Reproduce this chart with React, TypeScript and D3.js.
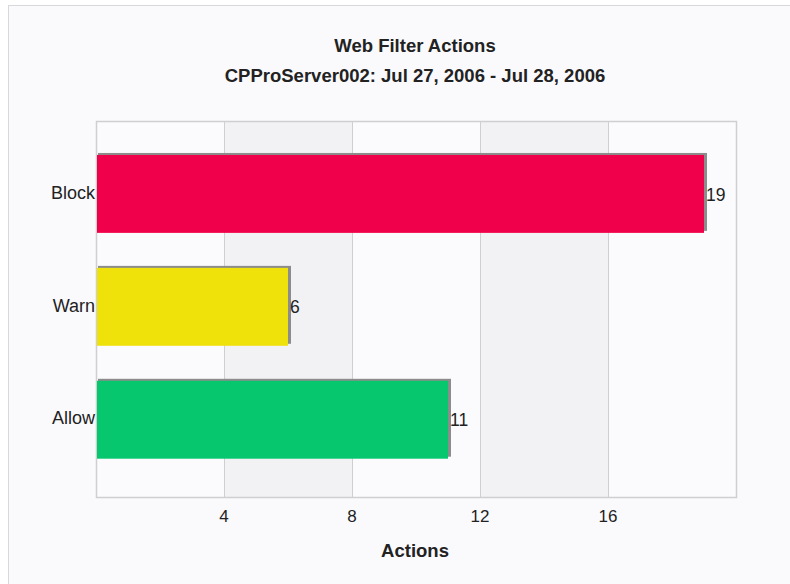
import React, { useEffect, useRef } from 'react';
import * as d3 from 'd3';

const categories = ['Block', 'Warn', 'Allow'];
const actionCounts = [19, 6, 11];
const barColors = ['#f0004a', '#efe10a', '#06c66e'];
const xTicks = [4, 8, 12, 16];
const xDomain = [0, 20];

export default function App() {
  const ref = useRef<SVGSVGElement>(null);

  useEffect(() => {
    const width = 790;
    const height = 584;
    const margin = { top: 121, right: 54, bottom: 87, left: 96 };
    const font = "'Liberation Sans', Arial, sans-serif";

    const svg = d3.select(ref.current);
    svg.selectAll('*').remove();

    svg.append('rect').attr('width', width).attr('height', height).attr('fill', '#ffffff');
    svg.append('rect')
      .attr('x', 8.5).attr('y', 5.5)
      .attr('width', width).attr('height', height)
      .attr('fill', '#fafafd')
      .attr('stroke', '#d8d8da');

    const x = d3.scaleLinear()
      .domain(xDomain)
      .range([margin.left, width - margin.right]);

    const y = d3.scaleBand()
      .domain(categories)
      .range([margin.top, height - margin.bottom])
      .paddingInner(0.31)
      .paddingOuter(0.32)
      .align(0.47);

    // alternating bands
    const bandEdges = [0, ...xTicks, xDomain[1]];
    svg.append('g')
      .selectAll('rect')
      .data(d3.pairs(bandEdges))
      .join('rect')
      .attr('x', ([a]) => x(a))
      .attr('y', margin.top)
      .attr('width', ([a, b]) => x(b) - x(a))
      .attr('height', height - margin.bottom - margin.top)
      .attr('fill', (_, i) => (i % 2 === 1 ? '#f2f2f5' : '#fbfbfd'));

    // grid lines
    svg.append('g')
      .selectAll('line')
      .data(xTicks)
      .join('line')
      .attr('x1', (d) => x(d) + 0.5)
      .attr('x2', (d) => x(d) + 0.5)
      .attr('y1', margin.top)
      .attr('y2', height - margin.bottom)
      .attr('stroke', '#cfcfd2');

    svg.append('rect')
      .attr('x', margin.left + 0.5)
      .attr('y', margin.top + 0.5)
      .attr('width', width - margin.left - margin.right)
      .attr('height', height - margin.top - margin.bottom)
      .attr('fill', 'none')
      .attr('stroke', '#cfcfd2')
      .attr('stroke-width', 1.5);

    const data = categories.map((c, i) => ({ c, v: actionCounts[i], color: barColors[i] }));

    // shadows
    svg.append('g')
      .selectAll('rect')
      .data(data)
      .join('rect')
      .attr('x', x(0) + 2)
      .attr('y', (d) => y(d.c)! - 2)
      .attr('width', (d) => x(d.v) - x(0) + 1)
      .attr('height', y.bandwidth())
      .attr('fill', '#8c8c8c');

    svg.append('g')
      .selectAll('rect')
      .data(data)
      .join('rect')
      .attr('x', x(0) + 1)
      .attr('y', (d) => y(d.c)!)
      .attr('width', (d) => x(d.v) - x(0) - 1)
      .attr('height', y.bandwidth())
      .attr('fill', (d) => d.color);

    // value labels
    svg.append('g')
      .selectAll('text')
      .data(data)
      .join('text')
      .attr('x', (d) => x(d.v) + 2)
      .attr('y', (d) => y(d.c)! + y.bandwidth() / 2 + 2)
      .attr('dominant-baseline', 'middle')
      .attr('font-family', font)
      .attr('font-size', 17.5)
      .attr('fill', '#222')
      .text((d) => d.v);

    // category labels
    svg.append('g')
      .selectAll('text')
      .data(categories)
      .join('text')
      .attr('x', margin.left - 1)
      .attr('y', (d) => y(d)! + y.bandwidth() / 2)
      .attr('text-anchor', 'end')
      .attr('dominant-baseline', 'middle')
      .attr('font-family', font)
      .attr('font-size', 18)
      .attr('fill', '#222')
      .text((d) => d);

    // x tick labels
    svg.append('g')
      .selectAll('text')
      .data(xTicks)
      .join('text')
      .attr('x', (d) => x(d))
      .attr('y', height - margin.bottom + 25)
      .attr('text-anchor', 'middle')
      .attr('font-family', font)
      .attr('font-size', 17)
      .attr('fill', '#222')
      .text((d) => d);

    const cx = 415;
    svg.append('text')
      .attr('x', cx).attr('y', 557)
      .attr('text-anchor', 'middle')
      .attr('font-family', font).attr('font-weight', 'bold').attr('font-size', 18.5)
      .attr('fill', '#222')
      .text('Actions');

    svg.append('text')
      .attr('x', cx).attr('y', 52)
      .attr('text-anchor', 'middle')
      .attr('font-family', font).attr('font-weight', 'bold').attr('font-size', 18.5)
      .attr('fill', '#222')
      .text('Web Filter Actions');

    svg.append('text')
      .attr('x', cx).attr('y', 82)
      .attr('text-anchor', 'middle')
      .attr('font-family', font).attr('font-weight', 'bold').attr('font-size', 18.5)
      .attr('fill', '#222')
      .text('CPProServer002: Jul 27, 2006 - Jul 28, 2006');
  }, []);

  return (
    <svg
      ref={ref}
      width={790}
      height={584}
      style={{ position: 'absolute', left: 0, top: 0, display: 'block' }}
    />
  );
}
